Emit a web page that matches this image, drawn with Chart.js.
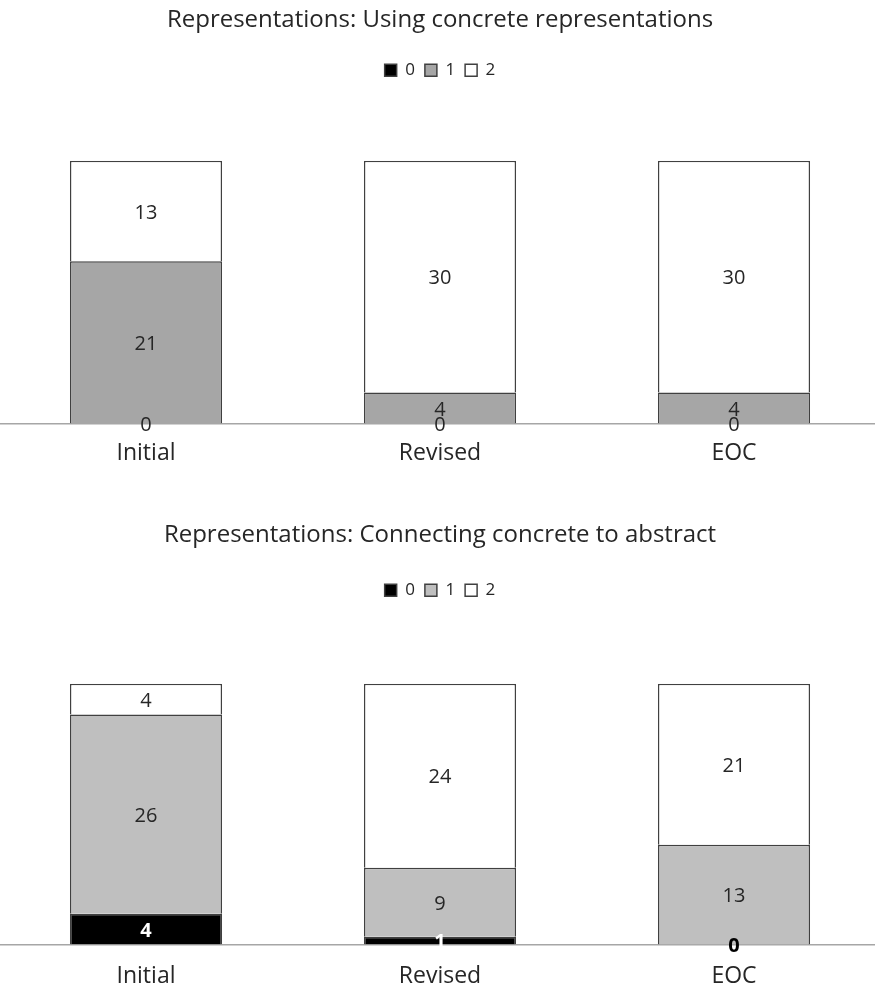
<!DOCTYPE html>
<html>
<head>
<meta charset="utf-8">
<script src="https://cdn.jsdelivr.net/npm/chart.js@4/dist/chart.umd.min.js"></script>
<style>
  html, body { margin: 0; background: #fff; overflow: hidden; }
  .box { position: absolute; left: -1px; width: 882px; }
  #b1 { top: 0; height: 485px; }
  #b2 { top: 494px; height: 515px; }
</style>
</head>
<body>
<div class="box" id="b1"><canvas id="c1"></canvas></div>
<div class="box" id="b2"><canvas id="c2"></canvas></div>
<script>
// ---------------- DATA ----------------
const categories = ["Initial", "Revised", "EOC"];
const seriesNames = ["0", "1", "2"];

const title1 = "Representations: Using concrete representations";
const top0 = [0, 0, 0];
const top1 = [21, 4, 4];
const top2 = [13, 30, 30];

const title2 = "Representations: Connecting concrete to abstract";
const bot0 = [4, 1, 0];
const bot1 = [26, 9, 13];
const bot2 = [4, 24, 21];

const FONT = "'Open Sans', sans-serif";
const TEXT = "#262626";

// ---------------- PLUGINS ----------------
// labels in the middle of each segment
const segLabels = {
    id: "segLabels",
    afterDatasetsDraw(chart, args, opts) {
        const ctx = chart.ctx;
        ctx.save();
        ctx.textAlign = "center";
        ctx.textBaseline = "middle";
        chart.data.datasets.forEach((ds, i) => {
            const meta = chart.getDatasetMeta(i);
            meta.data.forEach((bar, j) => {
                const v = ds.data[j];
                const y = (bar.y + bar.base) / 2 + 2;
                let bold = false;
                let color = "#262626";
                if (i === 0 && opts.boldFirst) {
                    bold = true;
                    color = v > 0 ? "#ffffff" : "#000000";
                }
                ctx.font = (bold ? "bold " : "") + "20px " + FONT;
                ctx.fillStyle = color;
                ctx.fillText(String(v), bar.x, y);
            });
        });
        ctx.restore();
    }
};

// extra room under the legend
const legendGap = {
    id: "legendGap",
    beforeInit(chart, args, opts) {
        const fit = chart.legend.fit;
        chart.legend.fit = function () {
            fit.bind(chart.legend)();
            this.height += opts.gap;
        };
    }
};

// ---------------- CHART ----------------
function makeChart(id, title, d0, d1, d2, gray, o) {
    const border = "#404040";
    return new Chart(document.getElementById(id), {
        type: "bar",
        data: {
            labels: categories,
            datasets: [
                { label: seriesNames[0], data: d0, backgroundColor: "#000000", borderColor: border, borderWidth: 1.5 },
                { label: seriesNames[1], data: d1, backgroundColor: gray, borderColor: border, borderWidth: 1.5 },
                { label: seriesNames[2], data: d2, backgroundColor: "#ffffff", borderColor: border, borderWidth: 1.5 }
            ]
        },
        options: {
            responsive: true,
            maintainAspectRatio: false,
            animation: false,
            barPercentage: 0.75,
            categoryPercentage: 0.69,
            layout: { padding: { left: 0, right: 0, top: 0, bottom: o.bottom } },
            scales: {
                x: {
                    stacked: true,
                    grid: { display: false, drawTicks: false },
                    border: { display: true, color: "#a6a6a6", width: 1.5 },
                    ticks: { color: TEXT, font: { family: FONT, size: 23 }, padding: o.tickPad }
                },
                y: {
                    stacked: true,
                    display: false,
                    min: 0,
                    max: 34
                }
            },
            plugins: {
                title: {
                    display: true,
                    text: title,
                    color: TEXT,
                    font: { family: FONT, size: 24, weight: "normal" },
                    padding: { top: o.titleTop, bottom: o.titleBottom }
                },
                legend: {
                    display: true,
                    labels: {
                        color: TEXT,
                        font: { family: FONT, size: 17 },
                        boxWidth: 12,
                        boxHeight: 12,
                        padding: 10
                    }
                },
                tooltip: { enabled: false },
                segLabels: { boldFirst: o.boldFirst },
                legendGap: { gap: o.gap }
            }
        },
        plugins: [segLabels, legendGap]
    });
}

makeChart("c1", title1, top0, top1, top2, "#a6a6a6",
    { titleTop: 6, titleBottom: 17, gap: 72, tickPad: 16, bottom: 2, boldFirst: false });
makeChart("c2", title2, bot0, bot1, bot2, "#bfbfbf",
    { titleTop: 27, titleBottom: 22, gap: 75, tickPad: 18, bottom: 1, boldFirst: true });
</script>
</body>
</html>
